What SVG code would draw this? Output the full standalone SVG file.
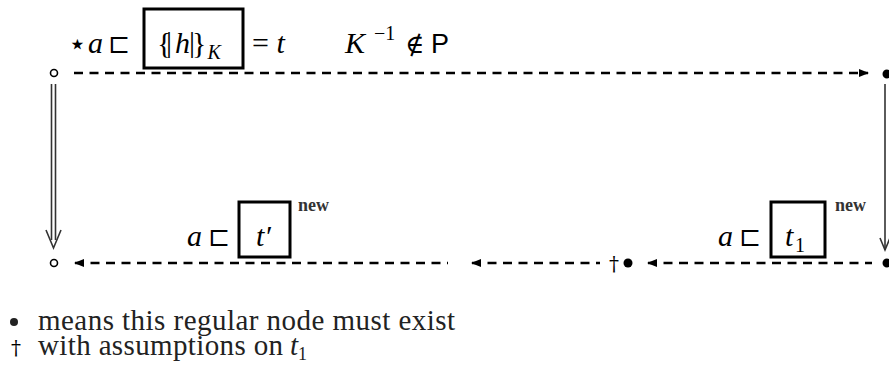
<svg xmlns="http://www.w3.org/2000/svg" width="889" height="367" viewBox="0 0 889 367">
<defs>
<style>
.m{font-family:"Liberation Serif","DejaVu Serif",serif;fill:#000}
.d{font-family:"DejaVu Serif","Liberation Serif",serif;fill:#000}
.i{font-style:italic}
.s{font-family:"Liberation Sans","DejaVu Sans",sans-serif;fill:#000}
.sm{font-family:"Liberation Serif","DejaVu Serif",serif;font-size:18px;font-weight:bold;fill:#333}
.box{fill:none;stroke:#000;stroke-width:3}
.dash{fill:none;stroke:#000;stroke-width:2.5;stroke-dasharray:9 6.5}
.leg{font-family:"Liberation Serif","DejaVu Serif",serif;font-size:29px;fill:#222}
</style>
<marker id="tip" viewBox="0 0 10 10" refX="9" refY="5" markerWidth="4" markerHeight="4" orient="auto-start-reverse" markerUnits="strokeWidth">
<path d="M0,1 L10,5 L0,9 z" fill="#000"/>
</marker>
</defs>

<g id="connectors">
<path class="dash" d="M74,73 H868" marker-end="url(#tip)"/>
<path class="dash" d="M75,263 H448" marker-start="url(#tip)"/>
<path class="dash" d="M472,263 H600" marker-start="url(#tip)"/>
<path class="dash" d="M648,263 H872" marker-start="url(#tip)"/>
<g id="double-arrow" fill="none" stroke="#333" stroke-width="1.6">
<path d="M51.5,84 V240 M55.5,84 V240"/>
<path d="M46,230 L53.5,248 L61,230"/>
</g>
<g id="right-arrow" fill="none" stroke="#333" stroke-width="1.6">
<path d="M885,84 V250"/>
<path d="M880,238 L885,250 L890,238"/>
</g>
</g>

<g id="node-top-left">
<circle cx="54" cy="73" r="3.5" fill="#fff" stroke="#000" stroke-width="1.6"/>
</g>
<g id="node-top-right">
<circle cx="887" cy="74" r="4.5" fill="#000"/>
</g>
<g id="node-bottom-left">
<circle cx="54" cy="263" r="3.5" fill="#fff" stroke="#000" stroke-width="1.6"/>
</g>
<g id="node-bottom-mid">
<text x="609" y="271" class="d" font-size="20">†</text>
<circle cx="628" cy="263" r="4.5" fill="#000"/>
</g>
<g id="node-bottom-right">
<circle cx="887" cy="263" r="4.5" fill="#000"/>
</g>

<g id="label-top">
<text x="68" y="54" class="d" font-size="30">⋆</text>
<text x="88" y="53" class="m i" font-size="30">a</text>
<text x="108" y="53" class="d" font-size="26">⊏</text>
<rect class="box" x="144" y="9" width="99" height="59"/>
<text x="157" y="53" class="m" font-size="30">{<tspan dx="-5.4" dy="-1">|</tspan><tspan class="i" dx="3" dy="1">h</tspan><tspan dx="-1" dy="-1">|</tspan><tspan dx="-3" dy="1">}</tspan><tspan class="i" font-size="20" dx="1" dy="6">K</tspan></text>
<text x="252" y="53" class="m" font-size="30">= <tspan class="i">t</tspan></text>
<text x="345" y="53" class="m i" font-size="30">K</text>
<text x="374" y="40" class="m" font-size="20">−1</text>
<text x="405" y="53" class="d" font-size="26">∉</text>
<text x="431" y="53" class="s" font-size="27">P</text>
</g>

<g id="label-bottom-left">
<text x="187" y="246" class="m i" font-size="30">a</text>
<text x="208" y="246" class="d" font-size="26">⊏</text>
<rect class="box" x="239" y="202" width="51" height="55"/>
<text x="256" y="246" class="m i" font-size="30">t′</text>
<text x="298" y="211" class="sm">new</text>
</g>

<g id="label-bottom-right">
<text x="718" y="246" class="m i" font-size="30">a</text>
<text x="739" y="246" class="d" font-size="26">⊏</text>
<rect class="box" x="771" y="202" width="54" height="55"/>
<text x="785" y="246" class="m i" font-size="30">t</text>
<text x="795" y="252" class="m" font-size="20">1</text>
<text x="835" y="211" class="sm">new</text>
</g>

<g id="legend">
<circle cx="14" cy="322" r="4" fill="#222"/>
<text x="38" y="330" class="leg" textLength="417" lengthAdjust="spacing">means this regular node must exist</text>
<text x="11" y="355" class="d" font-size="20" fill="#222">†</text>
<text x="38" y="355" class="leg" textLength="245" lengthAdjust="spacing">with assumptions on</text>
<text x="290" y="355" class="leg i">t</text>
<text x="298" y="360" class="leg" style="font-size:18px">1</text>
</g>
</svg>
